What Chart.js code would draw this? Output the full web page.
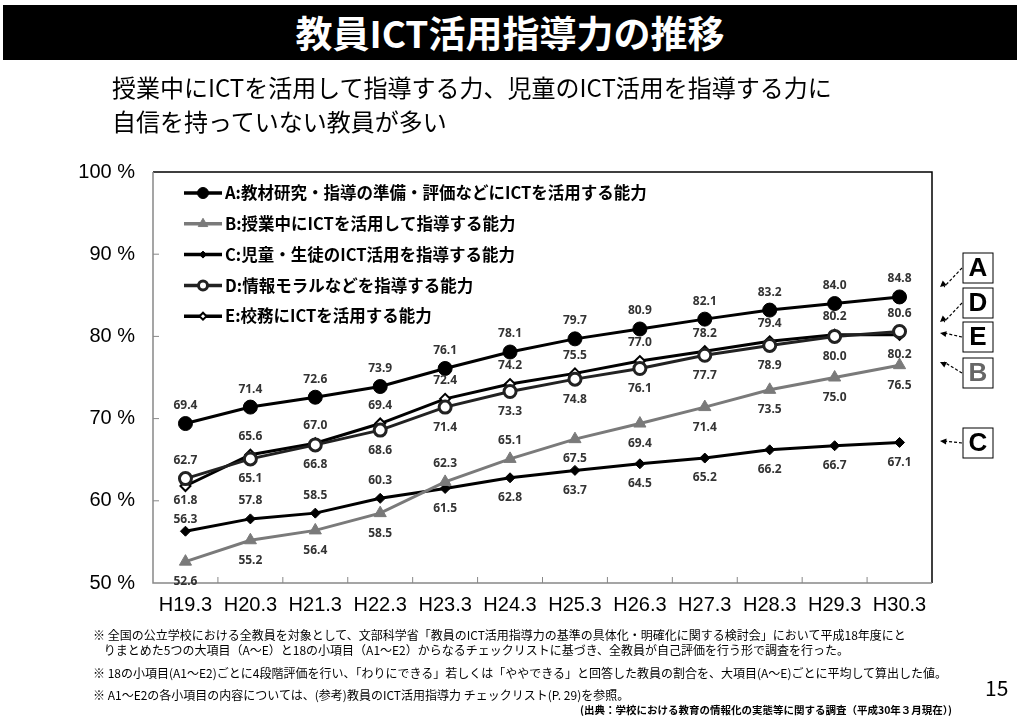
<!DOCTYPE html>
<html>
<head>
<meta charset="utf-8">
<script src="https://cdn.jsdelivr.net/npm/chart.js@4.4.1/dist/chart.umd.min.js"></script>
<style>
  body { margin: 0; width: 1017px; height: 716px; position: relative; background: #fff; overflow: hidden;
         font-family: "Noto Sans CJK JP", sans-serif; }
  #titlebar { position: absolute; left: 3px; top: 5px; width: 1014px; height: 55px; background: #000; color: #fff;
              text-align: center; font-weight: bold; font-size: 37px; line-height: 55px; }
  .sub { position: absolute; left: 112px; font-size: 24px; color: #000; white-space: nowrap; }
  .note { position: absolute; left: 93px; font-size: 12px; color: #000; white-space: nowrap; }
  #page { position: absolute; left: 985px; top: 672px; font-size: 21px; }
  #src { position: absolute; left: 580px; top: 702px; font-size: 10.5px; font-weight: bold; white-space: nowrap; }
  #wrap { position: absolute; left: 0; top: 0; width: 1017px; height: 716px; }
</style>
</head>
<body>
<div id="wrap"><canvas id="chart" width="1017" height="716"></canvas></div>
<div id="titlebar">教員ICT活用指導力の推移</div>
<div class="sub" style="top:69px">授業中にICTを活用して指導する力、児童のICT活用を指導する力に</div>
<div class="sub" style="top:103px">自信を持っていない教員が多い</div>
<div class="note" style="top:626px">※ 全国の公立学校における全教員を対象として、文部科学省「教員のICT活用指導力の基準の具体化・明確化に関する検討会」において平成18年度にと</div>
<div class="note" style="top:641px">&nbsp;&nbsp;&nbsp;&nbsp;りまとめた5つの大項目（A～E）と18の小項目（A1～E2）からなるチェックリストに基づき、全教員が自己評価を行う形で調査を行った。</div>
<div class="note" style="top:664px">※ 18の小項目(A1～E2)ごとに4段階評価を行い、「わりにできる」若しくは「ややできる」と回答した教員の割合を、大項目(A～E)ごとに平均して算出した値。</div>
<div class="note" style="top:686px">※ A1～E2の各小項目の内容については、(参考)教員のICT活用指導力 チェックリスト(P. 29)を参照。</div>
<div id="page">15</div>
<div id="src">(出典：学校における教育の情報化の実態等に関する調査（平成30年３月現在）)</div>

<script>
const years = ["H19.3", "H20.3", "H21.3", "H22.3", "H23.3", "H24.3", "H25.3", "H26.3", "H27.3", "H28.3", "H29.3", "H30.3"];

const valuesA = [69.4, 71.4, 72.6, 73.9, 76.1, 78.1, 79.7, 80.9, 82.1, 83.2, 84.0, 84.8];
const valuesB = [52.6, 55.2, 56.4, 58.5, 62.3, 65.1, 67.5, 69.4, 71.4, 73.5, 75.0, 76.5];
const valuesC = [56.3, 57.8, 58.5, 60.3, 61.5, 62.8, 63.7, 64.5, 65.2, 66.2, 66.7, 67.1];
const valuesD = [62.7, 65.1, 66.8, 68.6, 71.4, 73.3, 74.8, 76.1, 77.7, 78.9, 80.0, 80.6];
const valuesE = [61.8, 65.6, 67.0, 69.4, 72.4, 74.2, 75.5, 77.0, 78.2, 79.4, 80.2, 80.2];

const seriesNames = [
  "A:教材研究・指導の準備・評価などにICTを活用する能力",
  "B:授業中にICTを活用して指導する能力",
  "C:児童・生徒のICT活用を指導する能力",
  "D:情報モラルなどを指導する能力",
  "E:校務にICTを活用する能力",
];

const yTicks = [50, 60, 70, 80, 90, 100];

// vertical shift of each value label from its point (negative = above)
const labelShift = [
  [-18, -18, -18, -18, -18, -18, -18, -18, -18, -18, -18, -18],
  [20, 20, 20, 20, -18, -18, 19, 20, 20, 20, 20, 20],
  [-12, -18, -18, -18, 20, 20, 20, 20, 20, 20, 20, 20],
  [-18, 20, 20, 20, 20, 20, 20, 20, 20, 20, 20, -18],
  [15, -18, -18, -18, -18, -18, -18, -18, -18, -18, -18, 20],
];

// side markers A..E and where their arrows end
const sideTags = [
  { t: "A", y0: 253, target: 287, color: "#000" },
  { t: "D", y0: 288, target: 322, color: "#000" },
  { t: "E", y0: 322, target: 333, color: "#000" },
  { t: "B", y0: 358, target: 362, color: "#666" },
  { t: "C", y0: 428, target: 441, color: "#000" },
];

const GRAY = "#7a7a7a";

const chartFrame = {
  id: "chartFrame",
  afterDatasetsDraw(chart) {
    const { ctx, chartArea: a, scales } = chart;
    ctx.save();
    // border
    ctx.lineWidth = 1.5;
    ctx.strokeStyle = "#000";
    ctx.beginPath();
    ctx.moveTo(a.left, a.top); ctx.lineTo(a.right, a.top); ctx.lineTo(a.right, a.bottom);
    ctx.stroke();
    ctx.strokeStyle = "#888";
    ctx.beginPath();
    ctx.moveTo(a.left, a.top); ctx.lineTo(a.left, a.bottom); ctx.lineTo(a.right, a.bottom);
    ctx.stroke();
    // inside ticks
    ctx.lineWidth = 1;
    yTicks.slice(1, -1).forEach(v => {
      const y = scales.y.getPixelForValue(v);
      ctx.beginPath(); ctx.moveTo(a.left, y); ctx.lineTo(a.left + 6, y); ctx.stroke();
    });
    const step = (a.right - a.left) / years.length;
    for (let i = 1; i < years.length; i++) {
      const x = a.left + step * i;
      ctx.beginPath(); ctx.moveTo(x, a.bottom); ctx.lineTo(x, a.bottom - 6); ctx.stroke();
    }

    // value labels
    ctx.font = "bold 12px 'Noto Sans'";
    ctx.fillStyle = "#333";
    ctx.textAlign = "center";
    ctx.textBaseline = "middle";
    chart.data.datasets.forEach((ds, di) => {
      const meta = chart.getDatasetMeta(di);
      meta.data.forEach((pt, i) => {
        ctx.fillText(ds.data[i].toFixed(1), pt.x, pt.y + labelShift[di][i]);
      });
    });

    // legend inside plot
    ctx.textAlign = "left";
    ctx.font = "bold 16.5px 'Noto Sans CJK JP'";
    chart.data.datasets.forEach((ds, di) => {
      const y = 193 + di * 30.8;
      ctx.strokeStyle = ds.borderColor;
      ctx.lineWidth = 3.5;
      ctx.beginPath(); ctx.moveTo(184, y); ctx.lineTo(222, y); ctx.stroke();
      ctx.fillStyle = ds.pointBackgroundColor;
      ctx.strokeStyle = ds.pointBorderColor;
      ctx.lineWidth = ds.pointBorderWidth;
      Chart.helpers.drawPoint(ctx, {
        pointStyle: ds.pointStyle,
        radius: Math.max(ds.pointRadius - 1.5, 3.5),
        borderWidth: ds.pointBorderWidth,
        rotation: 0,
      }, 203, y);
      ctx.fillStyle = "#000";
      ctx.fillText(ds.label, 225, y);
    });

    // side tags with dashed arrows
    sideTags.forEach(s => {
      const bx = 963, bw = 30, bh = 30;
      ctx.strokeStyle = "#000";
      ctx.lineWidth = 1;
      ctx.strokeRect(bx, s.y0, bw, bh);
      ctx.fillStyle = s.color;
      ctx.font = "bold 26px 'Liberation Sans'";
      ctx.textAlign = "center";
      ctx.fillText(s.t, bx + bw / 2, s.y0 + bh / 2 + 1);
      const sx = bx - 1, sy = s.y0 + bh / 2;
      const tx = a.right + 8, ty = s.target;
      ctx.setLineDash([3, 2]);
      ctx.lineWidth = 1.2;
      ctx.beginPath(); ctx.moveTo(sx, sy); ctx.lineTo(tx + 4, ty); ctx.stroke();
      ctx.setLineDash([]);
      const ang = Math.atan2(ty - sy, tx - sx);
      ctx.fillStyle = "#000";
      ctx.beginPath();
      ctx.moveTo(tx, ty);
      ctx.lineTo(tx - 7 * Math.cos(ang - 0.45), ty - 7 * Math.sin(ang - 0.45));
      ctx.lineTo(tx - 7 * Math.cos(ang + 0.45), ty - 7 * Math.sin(ang + 0.45));
      ctx.closePath();
      ctx.fill();
    });
    ctx.restore();
  },
};

function series(label, data, color, style, radius, fill, pBorder, pbw) {
  return {
    label, data,
    borderColor: color,
    borderWidth: 3,
    pointStyle: style,
    pointRadius: radius,
    pointHoverRadius: radius,
    pointBackgroundColor: fill,
    pointBorderColor: pBorder,
    pointBorderWidth: pbw,
    tension: 0,
  };
}

new Chart(document.getElementById("chart"), {
  type: "line",
  data: {
    labels: years,
    datasets: [
      series(seriesNames[0], valuesA, "#000", "circle", 7, "#000", "#000", 1),
      series(seriesNames[1], valuesB, GRAY, "triangle", 7, GRAY, GRAY, 1),
      series(seriesNames[2], valuesC, "#000", "rectRot", 5, "#000", "#000", 1),
      series(seriesNames[3], valuesD, "#222", "circle", 6, "#fff", "#222", 3),
      series(seriesNames[4], valuesE, "#000", "rectRot", 5, "#fff", "#000", 2),
    ],
  },
  options: {
    responsive: false,
    animation: false,
    layout: { padding: { top: 172, right: 85, bottom: 0, left: 0 } },
    plugins: { legend: { display: false }, tooltip: { enabled: false } },
    scales: {
      x: {
        offset: true,
        grid: { display: false, drawTicks: false },
        border: { display: false },
        ticks: { color: "#000", padding: 10, font: { family: "Liberation Sans", size: 20 }, maxRotation: 0, autoSkip: false },
        afterFit(s) { s.height = 133; },
      },
      y: {
        min: 50, max: 100,
        grid: { display: false, drawTicks: false },
        border: { display: false },
        afterBuildTicks(s) { s.ticks = yTicks.map(v => ({ value: v })); },
        ticks: { color: "#000", padding: 18, font: { family: "Liberation Sans", size: 20 }, callback: v => v + " %" },
        afterFit(s) { s.width = 153; },
      },
    },
  },
  plugins: [chartFrame],
});
</script>
</body>
</html>
